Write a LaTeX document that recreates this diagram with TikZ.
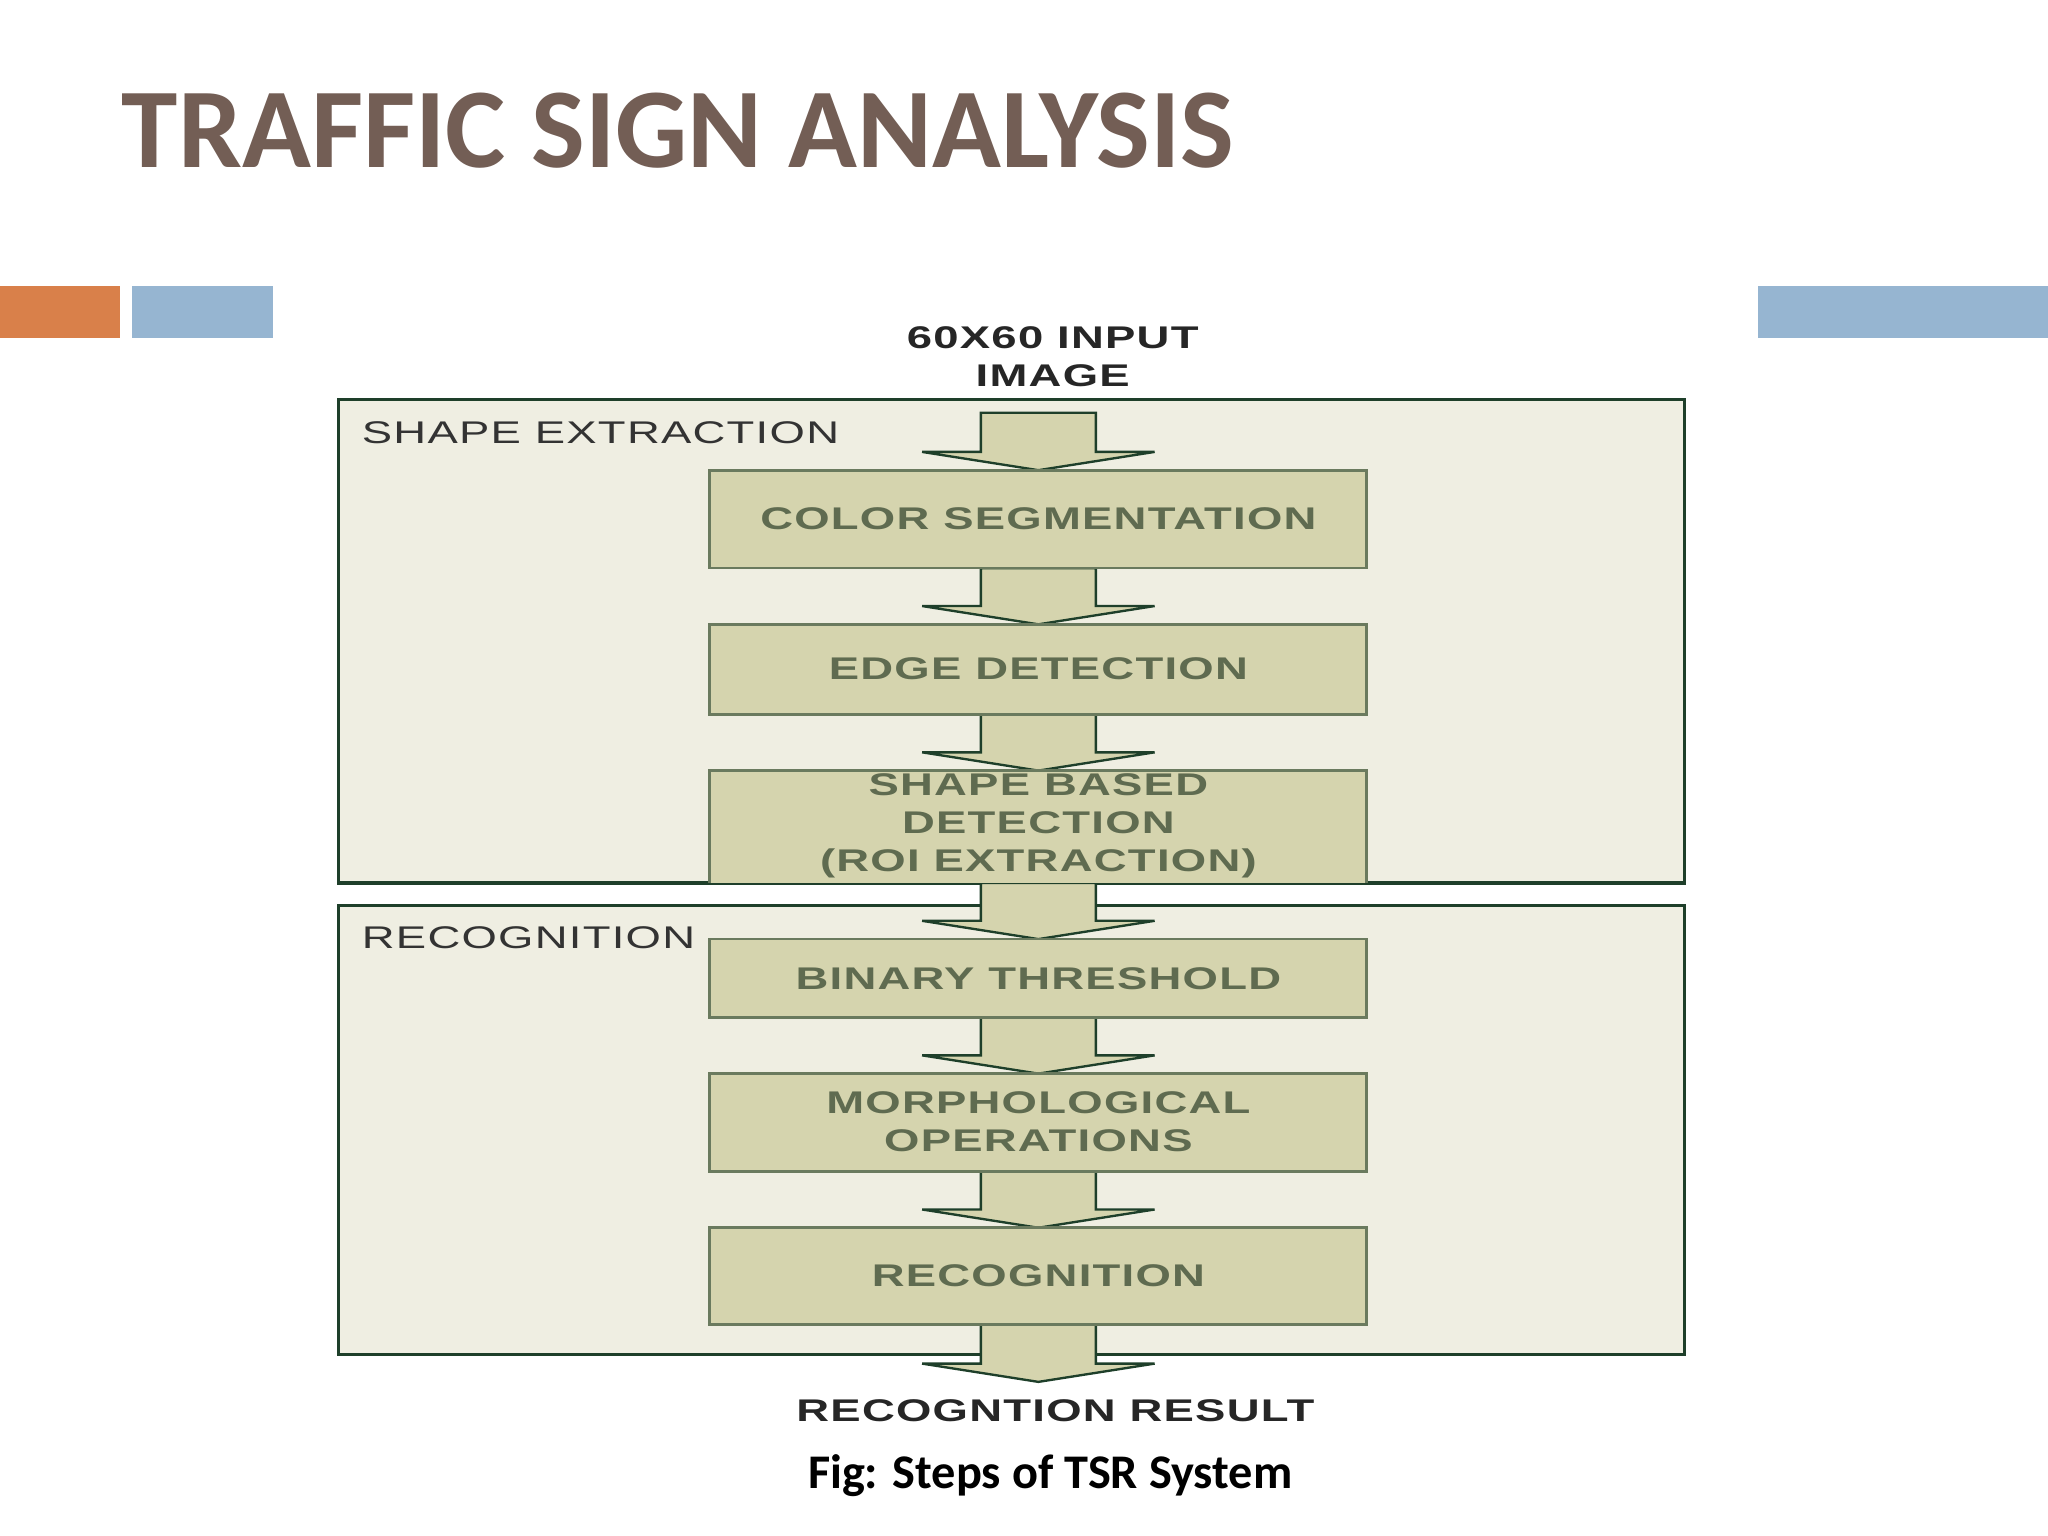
\documentclass[tikz,border=0pt]{standalone}
\usepackage{fontspec}
\setmainfont{Carlito}
\newfontfamily\boxfont[FakeStretch=1.45,LetterSpace=4]{Liberation Sans}
\definecolor{titlec}{HTML}{735E55}
\definecolor{orangec}{HTML}{D9804A}
\definecolor{bluec}{HTML}{96B5D1}
\definecolor{outerfill}{HTML}{EFEEE2}
\definecolor{outerdraw}{HTML}{1E3F2A}
\definecolor{innerfill}{HTML}{D5D4AE}
\definecolor{innerdraw}{HTML}{6A7A5E}
\definecolor{innertext}{HTML}{5F6B50}
\begin{document}
\begin{tikzpicture}[x=0.5pt,y=-0.5pt,
  outer/.style={draw=outerdraw,fill=outerfill,line width=1.2pt},
  stepbox/.style={draw=innerdraw,fill=innerfill,line width=1pt},
  boxtxt/.style={font=\boxfont\fontsize{12}{14.5}\selectfont\bfseries,text=innertext,align=center},
  lbltxt/.style={font=\boxfont\fontsize{12}{14.5}\selectfont,text=black!80,anchor=west},
  darktxt/.style={font=\boxfont\fontsize{12}{14.5}\selectfont\bfseries,text=black!85,align=center},
  blockarrow/.style={fill=innerfill,draw=outerdraw,line width=0.9pt,line join=miter}]
\useasboundingbox (0,0) rectangle (1568,1176);
\fill[white] (0,0) rectangle (1568,1176);
\node[anchor=base west,font=\fontsize{43.5}{47}\selectfont\bfseries,text=titlec,inner sep=0] (title) at (93,128) {TRAFFIC SIGN ANALYSIS};
\fill[orangec] (0,219) rectangle (92,259);
\fill[bluec] (101,219) rectangle (209,259);
\fill[bluec] (1346,219) rectangle (1568,259);
\draw[outer] (259,306) rectangle (1290,676);
\draw[outer] (259,693) rectangle (1290,1037);
\node[lbltxt] (l1) at (270,331) {SHAPE EXTRACTION};
\node[lbltxt] (l2) at (270,718) {RECOGNITION};
\newcommand{\barrow}[2]{%
  \draw[blockarrow] (751,#1) -- (839,#1) -- (839,#2-14) -- (884,#2-14) -- (795,#2) -- (706,#2-14) -- (751,#2-14) -- cycle;}
\barrow{316}{360}
\barrow{435}{478}
\barrow{547}{590}
\barrow{676}{719}
\barrow{779}{822}
\barrow{897}{940}
\barrow{1014}{1058}
\draw[stepbox] (543,360) rectangle (1046,435);
\node[boxtxt] (b1) at (795,397) {COLOR SEGMENTATION};
\draw[stepbox] (543,478) rectangle (1046,547);
\node[boxtxt] (b2) at (795,512) {EDGE DETECTION};
\draw[stepbox] (543,676) -- (543,590) -- (1046,590) -- (1046,676);
\node[boxtxt] (b3) at (795,632) {SHAPE BASED\\DETECTION\\(ROI EXTRACTION)};
\draw[stepbox] (543,719) rectangle (1046,779);
\node[boxtxt] (b4) at (795,749) {BINARY THRESHOLD};
\draw[stepbox] (543,822) rectangle (1046,897);
\node[boxtxt] (b5) at (795,859) {MORPHOLOGICAL\\OPERATIONS};
\draw[stepbox] (543,940) rectangle (1046,1014);
\node[boxtxt] (b6) at (795,977) {RECOGNITION};
\node[darktxt] (in) at (806,273) {60X60 INPUT\\IMAGE};
\node[darktxt] (out) at (808,1080) {RECOGNTION RESULT};
\node[font=\fontsize{18.5}{21}\selectfont\bfseries] (cap) at (804,1130) {Fig: Steps of TSR System};
\end{tikzpicture}
\end{document}
